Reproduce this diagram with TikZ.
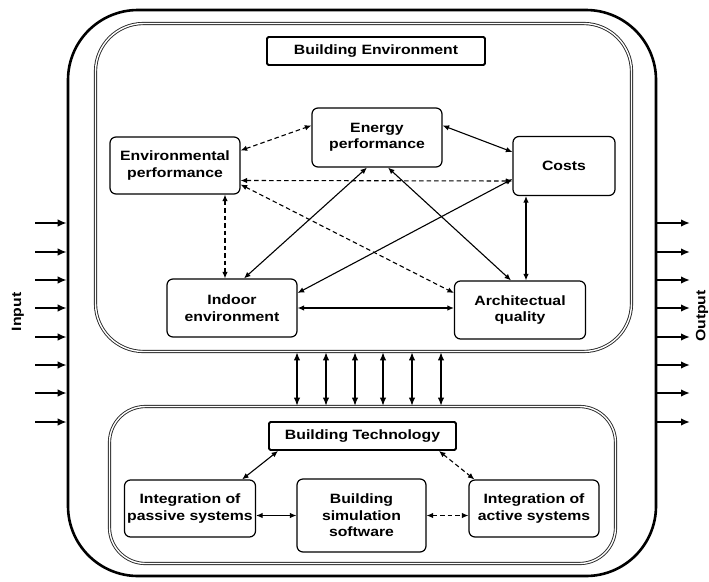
\documentclass[tikz,border=0pt]{standalone}
\usepackage{fontspec}
\setmainfont[FakeStretch=1.17]{Liberation Sans}
\usetikzlibrary{arrows.meta}

\begin{document}
\begin{tikzpicture}[x=1pt, y=-1pt,
    font=\bfseries\fontsize{13.5}{16.5}\selectfont,
    box/.style={draw, line width=1.2pt, rounded corners=6pt, align=center, inner sep=0pt},
    headbox/.style={draw, line width=1.9pt, rounded corners=1.5pt, inner sep=0pt},
    zone/.style={draw=black!85, double, double distance=1.4pt, line width=0.9pt, inner sep=0pt},
    link/.style={{Latex[length=6.5pt,width=5.5pt]}-{Latex[length=6.5pt,width=5.5pt]}, line width=1.1pt},
    dashlink/.style={link, dash pattern=on 4.5pt off 3pt},
    flow/.style={-{Latex[length=9pt,width=7.5pt]}, line width=2.3pt},
    exchange/.style={{Latex[length=8.5pt,width=6.5pt]}-{Latex[length=8.5pt,width=6.5pt]}, line width=2pt}]
    \useasboundingbox (0,0) rectangle (709,581);

    % Frames
    \node[draw, line width=2.6pt, rounded corners=70pt, minimum width=588pt, minimum height=566pt] (building) at (362,293) {};
    \node[zone, rounded corners=48pt, minimum width=536pt, minimum height=328pt] (envzone) at (363.5,187.5) {};
    \node[zone, rounded corners=36pt, minimum width=506pt, minimum height=157pt] (techzone) at (362.5,485) {};

    % Building environment
    \node[headbox, minimum width=218pt, minimum height=28pt] (envhead) at (376,51) {Building Environment};
    \node[box, minimum width=130pt, minimum height=59pt] (energy) at (377,137.5) {Energy\\performance};
    \node[box, minimum width=130pt, minimum height=57pt] (envperf) at (175,165.5) {Environmental\\performance};
    \node[box, minimum width=102pt, minimum height=59pt] (costs) at (564,166) {Costs};
    \node[box, minimum width=130pt, minimum height=58pt] (indoor) at (232,308) {Indoor\\environment};
    \node[box, minimum width=131pt, minimum height=58pt] (archi) at (520,310) {Architectual\\quality};

    % Building technology
    \node[headbox, minimum width=187pt, minimum height=28pt] (techhead) at (362.5,436) {Building Technology};
    \node[box, minimum width=131pt, minimum height=57pt] (passive) at (190,508.5) {Integration of\\passive systems};
    \node[box, minimum width=129pt, minimum height=73pt] (sim) at (361.5,515.5) {Building\\simulation\\software};
    \node[box, minimum width=130pt, minimum height=57pt] (active) at (534,508.5) {Integration of\\active systems};

    \node[rotate=90] (input) at (18,312) {Input};
    \node[rotate=90] (output) at (702,316) {Output};

    % Relations between the aspects
    \draw[dashlink] ([yshift=15pt]envperf.east) -- ([yshift=12pt]energy.west);
    \draw[link] ([yshift=12pt]energy.east) -- ([yshift=14pt]costs.west);
    \draw[dashlink] ([yshift=-15pt]envperf.east) -- ([yshift=-15pt]costs.west);
    \draw[dashlink] ([yshift=-19pt]envperf.east) -- ([yshift=17pt]archi.west);
    \draw[dashlink] ([xshift=50pt]envperf.south) -- ([xshift=50pt]envperf.south |- indoor.north);
    \draw[link] ([xshift=-10pt]energy.south) -- ([xshift=12pt]indoor.north);
    \draw[link] ([xshift=11pt]energy.south) -- ([xshift=-9pt]archi.north);
    \draw[link] ([yshift=-13pt]costs.west) -- ([yshift=15pt]indoor.east);
    \draw[link] ([xshift=-38pt]costs.south) -- ([xshift=-38pt]costs.south |- archi.north);
    \draw[link] (indoor.east) -- (indoor.east -| archi.west);

    \draw[link] ([xshift=10pt]techhead.south west) -- ([xshift=-14pt]passive.north east);
    \draw[dashlink] ([xshift=-18pt]techhead.south east) -- ([xshift=6pt]active.north west);
    \draw[link] (sim.west -| passive.east) -- (sim.west);
    \draw[dashlink] (sim.east) -- (sim.east -| active.west);

    % Exchange between environment and technology
    \foreach \x in {297,326,355,383,412,441}
        \draw[exchange] (envzone.south -| \x,0) -- (techzone.north -| \x,0);

    % Inputs and outputs
    \foreach \y [count=\i] in {223,252,280,308,337,365,393,422} {
        \coordinate (in\i) at (35,\y);
        \coordinate (out\i) at (690,\y);
        \draw[flow] (in\i) -- (in\i -| building.west);
        \draw[flow] (out\i -| building.east) -- (out\i);
    }
\end{tikzpicture}
\end{document}
